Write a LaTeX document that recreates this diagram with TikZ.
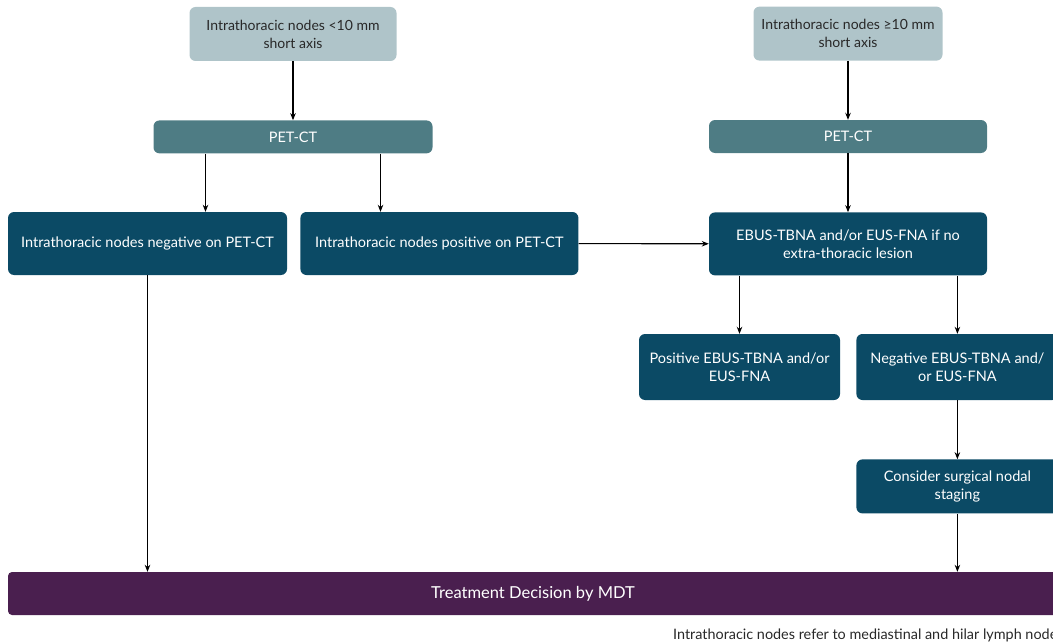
\documentclass[tikz,border=0pt]{standalone}
\usepackage{fontspec}
\setmainfont{Lato}
\usepackage{xcolor}
\usepackage{tikz}
\definecolor{paleteal}{RGB}{175, 196, 201}
\definecolor{midteal}{RGB}{78, 124, 132}
\definecolor{deepblue}{RGB}{11, 74, 101}
\definecolor{mdtpurple}{RGB}{74, 31, 79}
\definecolor{inkgray}{RGB}{40, 40, 40}
\usetikzlibrary{arrows.meta, positioning}

\begin{document}
\begin{tikzpicture}[
    x=1pt, y=1pt,
    node distance=59pt,
    entry/.style={rectangle, fill=paleteal, text=inkgray, align=center,
                rounded corners=6pt, inner sep=2pt, font=\fontsize{14}{18}\selectfont},
    scan/.style={rectangle, fill=midteal, text=white, align=center,
                rounded corners=6pt, inner sep=2pt, font=\fontsize{14.5}{18}\selectfont},
    result/.style={rectangle, fill=deepblue, text=white, align=center,
                rounded corners=6pt, inner sep=2pt, font=\fontsize{14.5}{18}\selectfont},
    decision/.style={rectangle, fill=mdtpurple, text=white, align=center,
                rounded corners=4pt, inner sep=2pt, font=\fontsize{16.5}{19}\selectfont},
    arrow/.style={-{Stealth[length=7pt, width=5.5pt]}, line width=1.1pt, black}
]
    \clip (0,0) rectangle (1053,-642);

    \node[entry, minimum width=207pt, minimum height=54pt] (small) at (293,-34) {Intrathoracic nodes <10 mm\\short axis};
    \node[scan, minimum width=279pt, minimum height=33pt, below=of small] (petleft) {PET-CT};
    \node[result, minimum width=279pt, minimum height=63pt] (negpet) at (147.5,-243.5) {Intrathoracic nodes negative on PET-CT};
    \node[result, minimum width=278pt, minimum height=63pt, right=13pt of negpet] (pospet) {Intrathoracic nodes positive on PET-CT};

    \node[scan, minimum width=278pt, minimum height=33pt] (petright) at (848,-136.5) {PET-CT};
    \node[entry, minimum width=189pt, minimum height=54pt, above=of petright] (large) {Intrathoracic nodes ≥10 mm\\short axis};
    \node[result, minimum width=278pt, minimum height=63pt, below=of petright] (ebus) {EBUS-TBNA and/or EUS-FNA if no\\extra-thoracic lesion};

    \node[result, minimum width=201pt, minimum height=66pt] (posebus) at (739.5,-367) {Positive EBUS-TBNA and/or\\EUS-FNA};
    \node[result, minimum width=202pt, minimum height=66pt, right=16pt of posebus] (negebus) {Negative EBUS-TBNA and/\\or EUS-FNA};
    \node[result, minimum width=202pt, minimum height=54pt, below=of negebus] (surgical) {Consider surgical nodal\\staging};

    \node[decision, minimum width=1050pt, minimum height=43pt] (mdt) at (533,-593.5) {Treatment Decision by MDT};
    \node[anchor=west, text=inkgray, inner sep=0pt, font=\fontsize{14.4}{16}\selectfont] (note) at (673,-635) {Intrathoracic nodes refer to mediastinal and hilar lymph nodes};

    \draw[arrow] (small) -- (petleft);
    \draw[arrow] (large) -- (petright);
    \draw[arrow] ([xshift=-87.5pt]petleft.south) -- ([xshift=-87.5pt]petleft.south |- negpet.north);
    \draw[arrow] ([xshift=87.5pt]petleft.south) -- ([xshift=87.5pt]petleft.south |- pospet.north);
    \draw[arrow] (petright) -- (ebus);
    \draw[arrow] (pospet) -- (ebus);
    \draw[arrow] (posebus.north |- ebus.south) -- (posebus.north);
    \draw[arrow] (negebus.north |- ebus.south) -- (negebus.north);
    \draw[arrow] (negebus) -- (surgical);
    \draw[arrow] (negpet.south) -- (negpet.south |- mdt.north);
    \draw[arrow] (surgical.south) -- (surgical.south |- mdt.north);
\end{tikzpicture}
\end{document}
